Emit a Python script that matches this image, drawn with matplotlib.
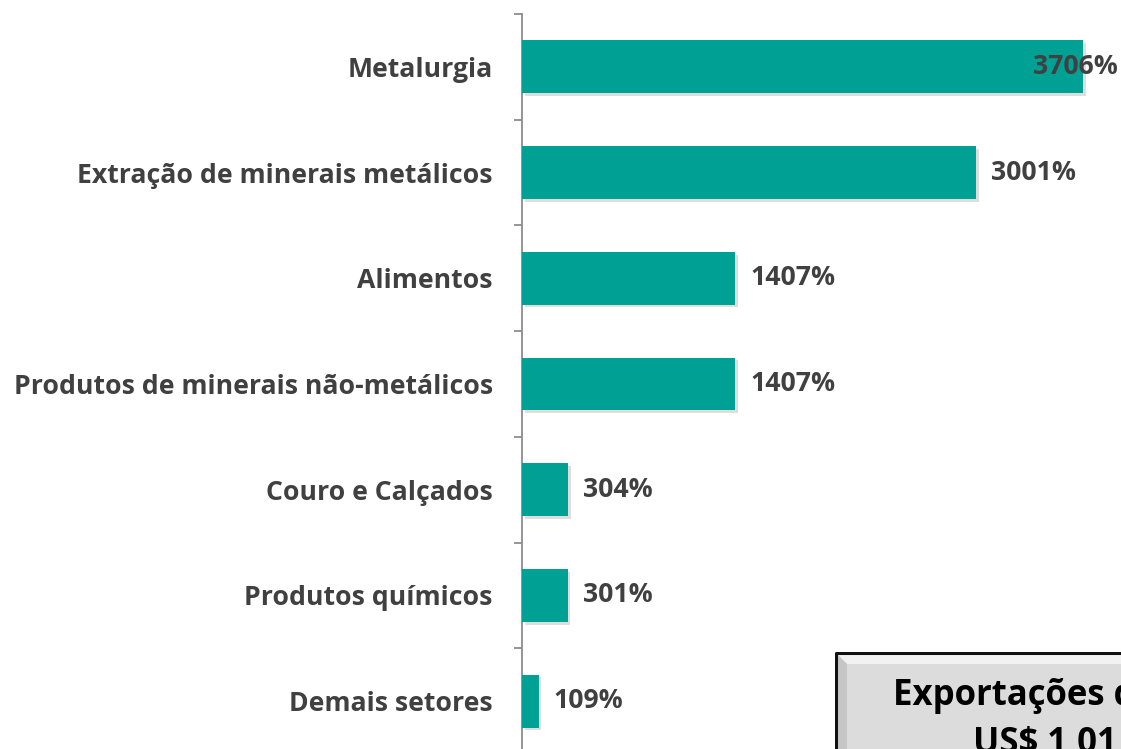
import matplotlib
matplotlib.use("Agg")
import matplotlib.pyplot as plt
import matplotlib.patheffects as pe
from matplotlib.patches import Rectangle, Polygon
import numpy as np

categories = ["Metalurgia", "Extração de minerais metálicos", "Alimentos",
              "Produtos de minerais não-metálicos", "Couro e Calçados",
              "Produtos químicos", "Demais setores"]
values = [3706, 3001, 1407, 1407, 304, 301, 109]
value_labels = ["3706%", "3001%", "1407%", "1407%", "304%", "301%", "109%"]
box_lines = ["Exportações de", "US$ 1,01 bi"]

W, H = 1121, 749
plt.rcParams['font.family'] = ['Open Sans', 'DejaVu Sans']
fig = plt.figure(figsize=(W / 100, H / 100), dpi=100)
fig.patch.set_facecolor("white")

ax_left = 522 / W
ax_w = (W - 522) / W
ax_top = 14
ax_bot = 754
ax = fig.add_axes([ax_left, (H - ax_bot) / H, ax_w, (ax_bot - ax_top) / H])
ax.set_facecolor("none")

ypos = np.arange(len(categories))
teal = "#00A195"
bars = ax.barh(ypos, values, height=0.5, color=teal, zorder=3)
for b in bars:
    b.set_path_effects([pe.SimplePatchShadow(offset=(2, -2), alpha=0.13, shadow_rgbFace="#000000"),
                        pe.Normal()])

xmax = values[0] * (W - 522) / (1083 - 522)
ax.set_xlim(0, xmax)
ax.set_ylim(len(categories) - 0.5, -0.5)

txtcol = "#404040"
fs = 19.2
for i, (v, lab) in enumerate(zip(values, value_labels)):
    end_px = v * (W - 522) / xmax
    if end_px + 17 + 90 > (W - 522):
        ax.annotate(lab, xy=(1, i), xycoords=ax.get_yaxis_transform(),
                    xytext=(-3, 0), textcoords="offset pixels",
                    ha="right", va="center", fontsize=fs, fontweight="bold",
                    color=txtcol, zorder=5)
    else:
        ax.annotate(lab, xy=(v, i), xytext=(15, 0), textcoords="offset pixels",
                    ha="left", va="center", fontsize=fs, fontweight="bold",
                    color=txtcol, zorder=5)

for s in ["top", "right", "bottom"]:
    ax.spines[s].set_visible(False)
ax.spines["left"].set_color("#8C8C8C")
ax.spines["left"].set_linewidth(1.3)
ax.set_xticks([])
ax.set_yticks(ypos)
ax.set_yticklabels(categories, fontsize=fs, fontweight="bold", color=txtcol)
ax.tick_params(axis="y", which="major", length=0, pad=21)
ax.set_yticks(np.arange(-0.5, len(categories) + 0.5, 1), minor=True)
ax.tick_params(axis="y", which="minor", length=6, width=1.3, color="#8C8C8C")

# info box at bottom right
bx0, by1 = 835, 652
box = fig.add_axes([bx0 / W, 0, (W - bx0) / W, (H - by1) / H])
box.set_xlim(0, W - bx0)
box.set_ylim(H - by1, 0)
box.axis("off")
bw, bh = W - bx0 + 20, H - by1 + 20
box.add_patch(Rectangle((0, 0), bw, bh, facecolor="#DCDCDC", edgecolor="none"))
bev = 12
box.add_patch(Polygon([(0, 0), (bw, 0), (bw, bev), (bev, bev)], closed=True,
                      facecolor="#F2F2F2", edgecolor="none"))
box.add_patch(Polygon([(0, 0), (bev, bev), (bev, bh), (0, bh)], closed=True,
                      facecolor="#C6C6C6", edgecolor="none"))
box.plot([1, 1, bw], [bh, 1, 1], color="#111111", lw=2.2, solid_capstyle="butt")
box.text(893 - bx0, 705 - by1, box_lines[0], fontsize=25, fontweight="bold",
         color="black", ha="left", va="baseline")
box.text(973 - bx0, 753 - by1, box_lines[1], fontsize=25, fontweight="bold",
         color="black", ha="left", va="baseline")

fig.savefig("out.png", dpi=100)
